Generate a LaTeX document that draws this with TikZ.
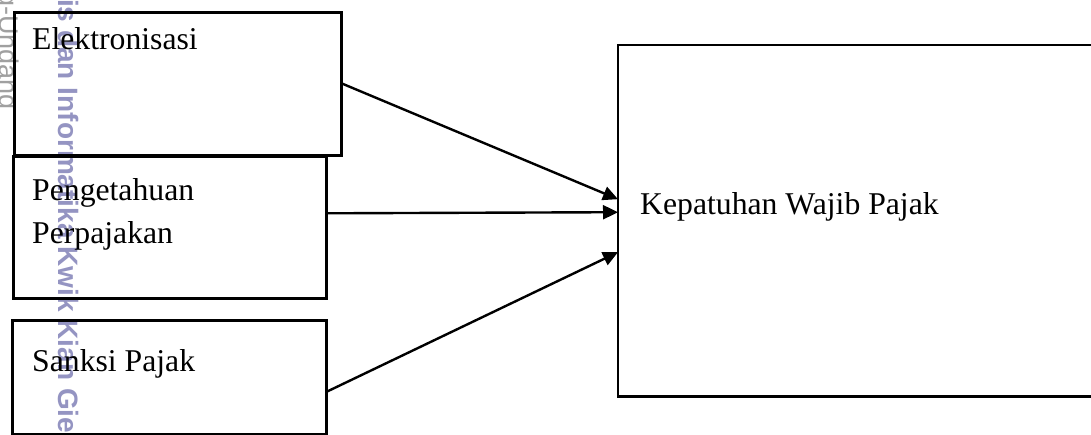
\documentclass[tikz,border=0pt]{standalone}
\usepackage{fontspec}
\setmainfont{Liberation Serif}
\newfontfamily\wmfont{Liberation Sans}
\usetikzlibrary{arrows.meta}
\definecolor{wmblue}{RGB}{148,148,194}
\definecolor{wmgray}{RGB}{160,160,160}
\tikzset{
  box/.style={draw=black, line width=2.6pt, fill=none, inner sep=0pt, anchor=north west},
  openbox/.style={inner sep=0pt, anchor=north west},
  label/.style={inner sep=0pt, anchor=base west, font=\fontsize{31.7}{43}\selectfont},
  conn/.style={line width=2.4pt, -{Triangle[length=15pt,width=14pt]}},
  wm/.style={inner sep=0pt, rotate=-90}
}
\begin{document}
\begin{tikzpicture}[x=1pt,y=-1pt]
\fill[white] (0,0) rectangle (1091,435);
\useasboundingbox (0,0) rectangle (1091,435);
% watermark
\node[wm, anchor=base west, text=wmblue, font=\wmfont\bfseries\fontsize{28}{28}\selectfont] (wm1) at (58,-1) {is dan Informatika Kwik Kian Gie};
\node[wm, anchor=base east, text=wmgray, font=\wmfont\fontsize{27}{27}\selectfont] (wm2) at (-1,110) {g-Undang};
% boxes
\node[box, minimum width=327pt, minimum height=143pt] (e) at (13,11) {};
\node[box, minimum width=313pt, minimum height=142pt] (p) at (12,155) {};
\node[box, minimum width=314pt, minimum height=114pt] (s) at (11,319) {};
\node[openbox, minimum width=480pt, minimum height=351pt] (k) at (618,45) {};
\draw[line width=2.6pt] (k.north east) -- (k.north west) -- (k.south west) -- (k.south east);
% texts
\node[label] (te) at (32,50) {Elektronisasi};
\node[label] (tp1) at (32,200.7) {Pengetahuan};
\node[label] (tp2) at (32,243.3) {Perpajakan};
\node[label] (ts) at (32,371.7) {Sanksi Pajak};
\node[label] (tk) at (640,215) {Kepatuhan Wajib Pajak};
% connectors
\draw[conn] (e.east) -- ([yshift=21.5pt]k.west);
\draw[conn] ([yshift=14pt]p.east) -- ([yshift=8.5pt]k.west);
\draw[conn] ([yshift=-14pt]s.east) -- ([yshift=-31.5pt]k.west);
\end{tikzpicture}
\end{document}
